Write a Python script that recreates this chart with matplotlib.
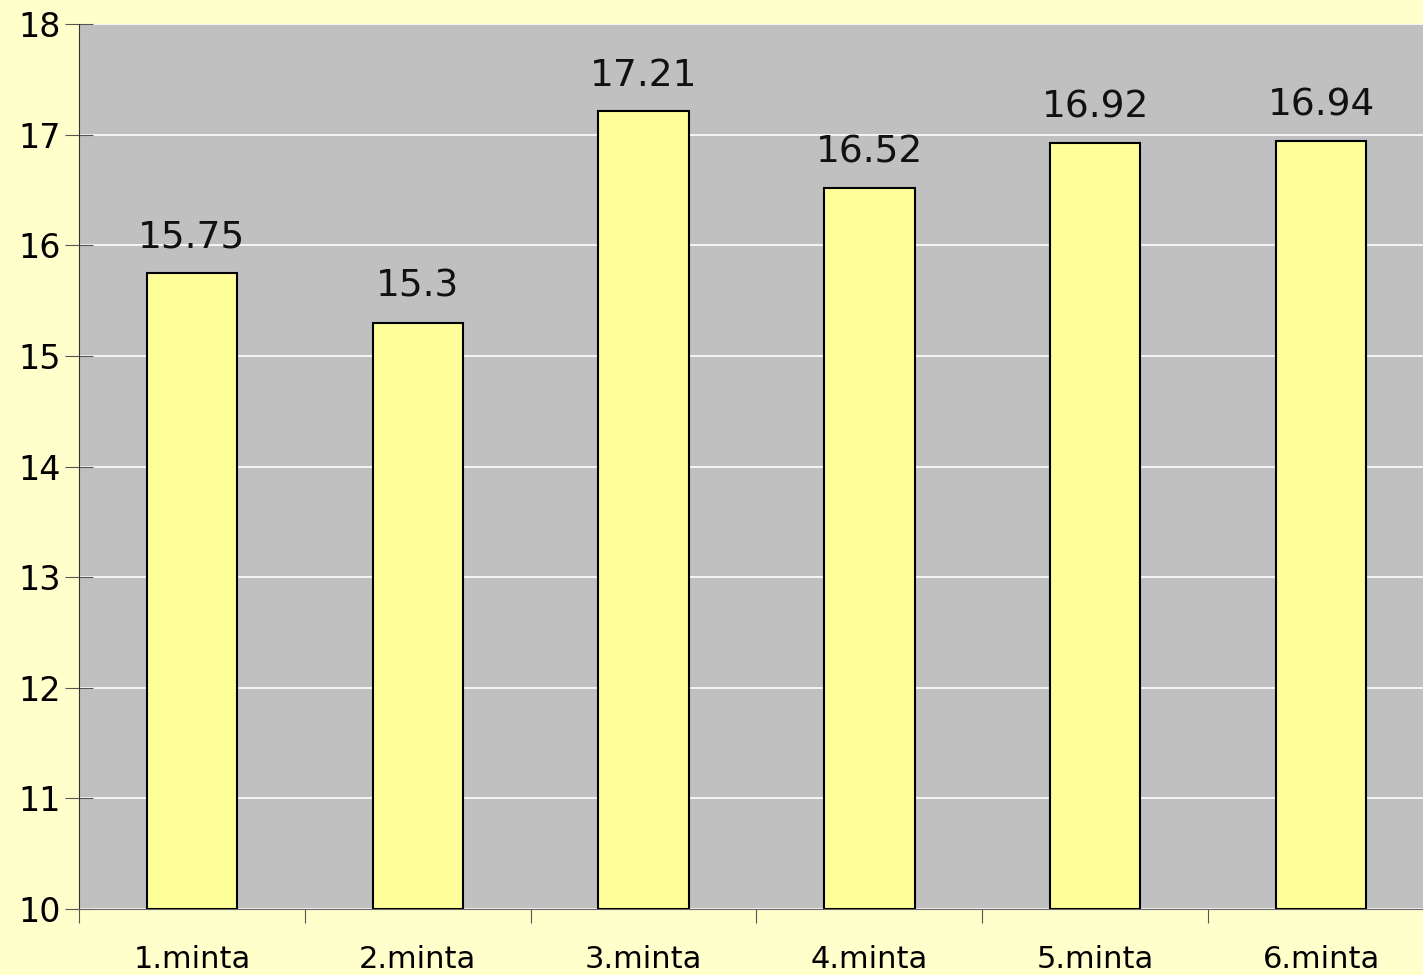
import numpy as np
import matplotlib.pyplot as plt

labels = ['1.minta', '2.minta', '3.minta', '4.minta', '5.minta', '6.minta']
values = [15.75, 15.3, 17.21, 16.52, 16.92, 16.94]
value_text = ['15.75', '15.3', '17.21', '16.52', '16.92', '16.94']

fig = plt.figure(figsize=(14.23, 9.75), dpi=100, facecolor='#FFFFCC')
ax = fig.add_axes([79/1423, 1 - 909/975, (1434 - 79)/1423, (909 - 24)/975])
ax.set_facecolor('#C0C0C0')

x = np.arange(len(labels))
bars = ax.bar(x, np.array(values) - 10, bottom=10, width=0.40,
              color='#FFFF99', edgecolor='black', linewidth=1.5, zorder=3)

for xi, v, t in zip(x, values, value_text):
    ax.text(xi, v + 0.16, t, ha='center', va='bottom', fontsize=27, color='#111111')

ax.set_xlim(-0.5, 5.5)
ax.set_ylim(10, 18)
ax.set_yticks(range(10, 19))
ax.yaxis.grid(True, color='white', linewidth=1.2, zorder=0)
ax.set_axisbelow(True)

ax.set_xticks(np.arange(-0.5, 6, 1))
ax.set_xticklabels([])
ax.set_xticks(x, minor=True)
ax.set_xticklabels(labels, minor=True, fontsize=22)
ax.tick_params(axis='x', which='minor', length=0, pad=26)
ax.tick_params(axis='x', which='major', direction='out', length=10, color='#555555')
ax.tick_params(axis='y', direction='inout', length=20, color='#555555', labelsize=24, pad=3)

for s in ['top', 'right']:
    ax.spines[s].set_visible(False)
ax.spines['left'].set_color('#333333')
ax.spines['bottom'].set_color('#666666')

fig.savefig('out.png', dpi=100, facecolor=fig.get_facecolor())
